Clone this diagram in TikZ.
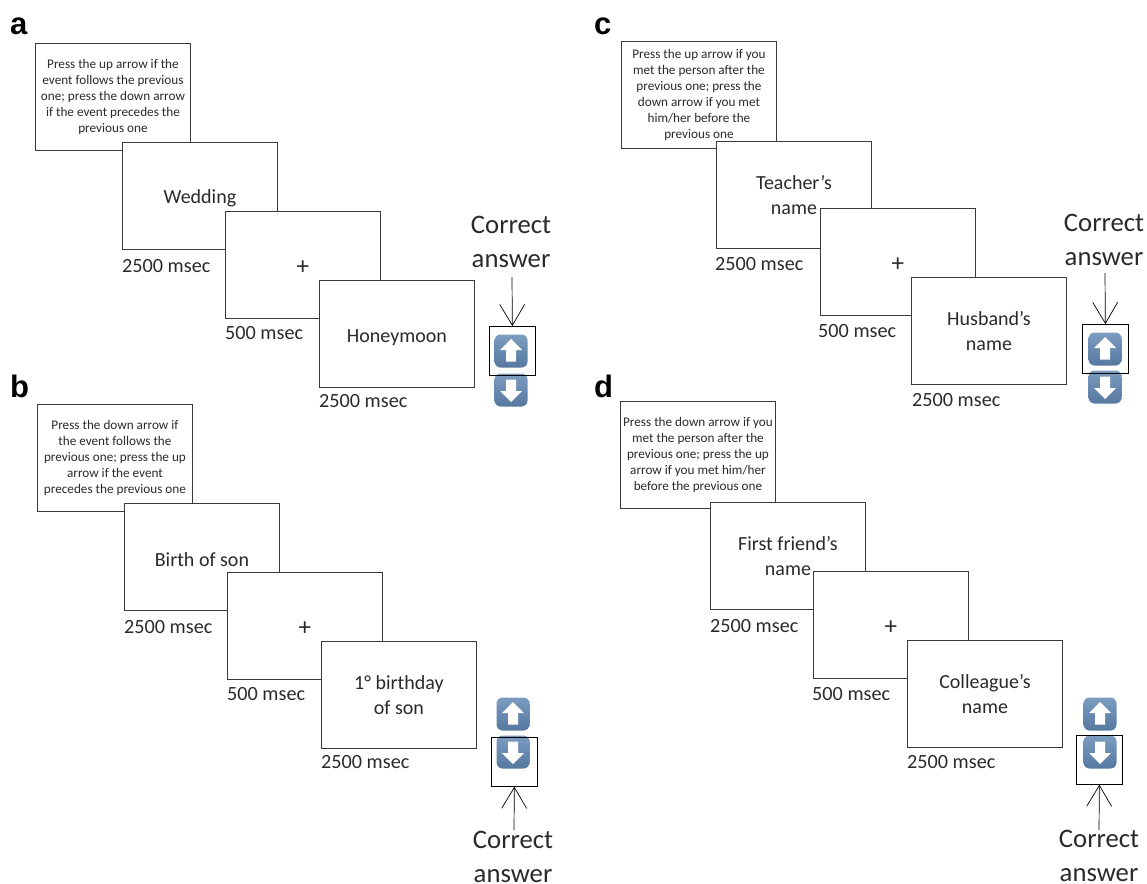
\documentclass[tikz,border=0pt]{standalone}
\usepackage{fontspec}
\setmainfont{Carlito}
\newfontfamily\headfont{Liberation Sans}[Scale=1]
\usetikzlibrary{arrows.meta,calc}
\definecolor{framegray}{HTML}{3A3A3A}
\definecolor{keytop}{HTML}{7C9CC0}
\definecolor{keybot}{HTML}{56789F}
\definecolor{inktext}{HTML}{2A2A2A}
\tikzset{
  x=1pt,y=-1pt,
  boxbase/.style={draw=framegray,fill=white,line width=.9pt,anchor=north west,inner sep=0pt,minimum width=155pt,minimum height=107pt,text=inktext,align=center},
  screen/.style={boxbase,font=\fontsize{20}{24.5}\selectfont,execute at begin node={\rule{0pt}{19.5pt}}},
  twoline/.style={boxbase,font=\fontsize{20}{24.5}\selectfont},
  plusbox/.style={boxbase,font=\fontsize{25}{25}\selectfont,execute at begin node={\rule{0pt}{19pt}}},
  instr/.style={boxbase,font=\fontsize{13.2}{16}\selectfont},
  timing/.style={anchor=north west,inner sep=0pt,text=inktext,font=\fontsize{20.2}{23}\selectfont},
  panel/.style={anchor=west,inner sep=0pt,font=\headfont\bfseries\fontsize{31}{32}\selectfont},
  answer/.style={align=center,inner sep=0pt,text=inktext,font=\fontsize{26.7}{34}\selectfont},
  keyface/.style={rounded corners=6pt,minimum width=33pt,minimum height=33pt,inner sep=0pt,top color=keytop,bottom color=keybot,draw=none},
  keyframe/.style={draw=black,line width=.7pt,inner sep=0pt,minimum width=46pt,minimum height=49pt,anchor=north west},
  pointer/.style={draw=black,line width=.7pt,-{Straight Barb[length=21pt,width=25pt,line width=.7pt]}}
}
\newcommand{\lowline}[1]{\raisebox{-1.5pt}{#1}}
\newcommand{\upkey}[3]{\node[keyface] (#1) at (#2,#3) {};
  \fill[white] ($(#1)+(0,-12)$) -- ++(11,11) -- ++(-6,0) -- ++(0,11.5) -- ++(-10,0) -- ++(0,-11.5) -- ++(-6,0) -- cycle;}
\newcommand{\downkey}[3]{\node[keyface] (#1) at (#2,#3) {};
  \fill[white] ($(#1)+(0,12)$) -- ++(11,-11) -- ++(-6,0) -- ++(0,-11.5) -- ++(-10,0) -- ++(0,11.5) -- ++(-6,0) -- cycle;}
\begin{document}
\begin{tikzpicture}
\useasboundingbox (0,0) rectangle (1147,883);
% panel a
\node[panel] (la) at (10,26) {a};
\node[instr] (a1) at (35,43) {Press the up arrow if the\\event follows the previous\\one; press the down arrow\\if the event precedes the\\previous one};
\node[screen] (a2) at (122,142) {Wedding};
\node[plusbox] (a3) at (225,211) {+};
\node[screen] (a4) at (319,280) {Honeymoon};
\node[timing] (ta2) at (122,259) {2500 msec};
\node[timing] (ta3) at (225,326) {500 msec};
\node[timing] (ta4) at (319,394) {2500 msec};
\node[answer] (ansa) at (511,242) {Correct\\answer};
\upkey{ua}{511}{351}
\downkey{da}{511}{390}
\node[keyframe] (fa) at (489,326) {};
\coordinate (pa) at (512,277);
\draw[pointer] (pa) -- (fa.north);
% panel b
\node[panel] (lb) at (10,386) {b};
\node[instr] (b1) at (37,404) {Press the down arrow if\\the event follows the\\previous one; press the up\\arrow if the event\\precedes the previous one};
\node[screen] (b2) at (124,503) {Birth of son};
\node[plusbox] (b3) at (227,572) {+};
\node[twoline] (b4) at (321,641) {\lowline{1° birthday}\\\lowline{of son}};
\node[timing] (tb2) at (124,620) {2500 msec};
\node[timing] (tb3) at (227,687) {500 msec};
\node[timing] (tb4) at (321,755) {2500 msec};
\upkey{ub}{513}{714}
\downkey{db}{513}{752}
\node[keyframe] (fb) at (491,737) {};
\node[answer] (ansb) at (513,857) {Correct\\answer};
\coordinate (pb) at (514,830);
\draw[pointer] (pb) -- (fb.south);
% panel c
\node[panel] (lc) at (594,26) {c};
\node[instr] (c1) at (621,41) {Press the up arrow if you\\met the person after the\\previous one; press the\\down arrow if you met\\him/her before the\\previous one};
\node[twoline] (c2) at (716,141) {\lowline{Teacher’s}\\\lowline{name}};
\node[plusbox] (c3) at (820,208) {+};
\node[twoline] (c4) at (911,277) {\lowline{Husband’s}\\\lowline{name}};
\node[timing] (tc2) at (715,257) {2500 msec};
\node[timing] (tc3) at (818,324) {500 msec};
\node[timing] (tc4) at (912,393) {2500 msec};
\node[answer] (ansc) at (1104,240) {Correct\\answer};
\upkey{uc}{1105}{349}
\downkey{dc}{1105}{387}
\node[keyframe] (fc) at (1082,324) {};
\coordinate (pc) at (1105,273);
\draw[pointer] (pc) -- (fc.north);
% panel d
\node[panel] (ld) at (594,386) {d};
\node[instr] (d1) at (620,401) {Press the down arrow if you\\met the person after the\\previous one; press the up\\arrow if you met him/her\\before the previous one};
\node[twoline] (d2) at (710,502) {\lowline{First friend’s}\\\lowline{name}};
\node[plusbox] (d3) at (813,571) {+};
\node[twoline] (d4) at (907,640) {\lowline{Colleague’s}\\\lowline{name}};
\node[timing] (td2) at (710,619) {2500 msec};
\node[timing] (td3) at (812,687) {500 msec};
\node[timing] (td4) at (907,755) {2500 msec};
\upkey{ud}{1100}{714}
\downkey{dd}{1100}{752}
\node[keyframe] (fd) at (1076,735) {};
\node[answer] (ansd) at (1099,856) {Correct\\answer};
\coordinate (pd) at (1099,830);
\draw[pointer] (pd) -- (fd.south);
\end{tikzpicture}
\end{document}
